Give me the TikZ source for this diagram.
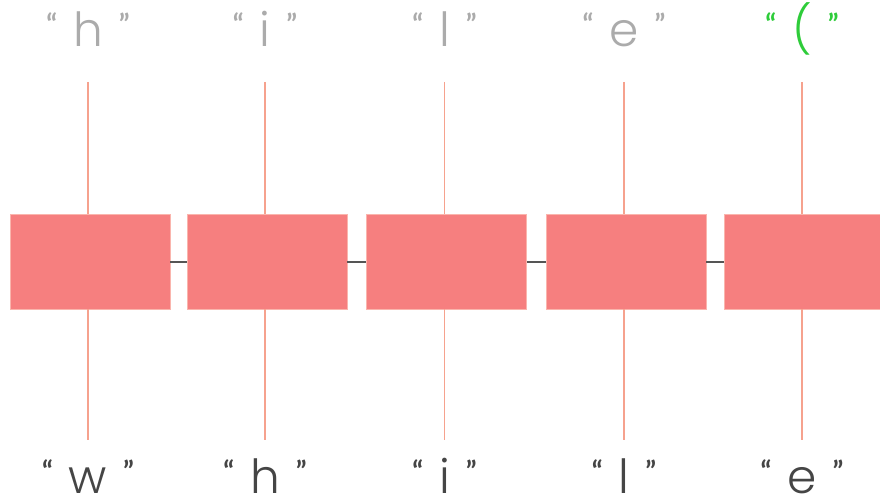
\documentclass[tikz,border=0pt]{standalone}
\usepackage{fontspec}
\setmainfont{Poppins Light}
\newfontfamily\quotefont{Lato}
\definecolor{boxred}{HTML}{F67F7F}
\definecolor{boxedge}{HTML}{FAB5AD}
\definecolor{stem}{HTML}{F6A28E}
\definecolor{toplbl}{HTML}{ABABAB}
\definecolor{greenlbl}{HTML}{2ECC3A}
\definecolor{botlbl}{HTML}{454545}
\definecolor{link}{HTML}{555555}
\newcommand\qmark[1]{\raisebox{12pt}{\quotefont\bfseries\fontsize{28}{28}\selectfont #1}}
\newcommand\lbltext[1]{\qmark{“}\hspace{16pt}#1\hspace{16pt}\qmark{”}}
\begin{document}
\begin{tikzpicture}[x=1pt,y=-1pt,
  cell/.style={draw=boxedge,line width=0.8pt,fill=boxred,minimum width=160pt,minimum height=95pt,inner sep=0pt},
  stemline/.style={draw=stem,line width=1.3pt},
  linkline/.style={draw=link,line width=2pt},
  lbl/.style={anchor=base,inner sep=0pt,font=\fontsize{47}{47}\selectfont}]
\useasboundingbox (0,0) rectangle (880,500);
\clip (0,0) rectangle (880,500);
% boxes
\node[cell] (b1) at (90,261.5) {};
\node[cell] (b2) at (267,261.5) {};
\node[cell] (b3) at (446.5,261.5) {};
\node[cell] (b4) at (626,261.5) {};
\node[cell] (b5) at (804,261.5) {};
% connectors
\draw[linkline] (b1.east) -- (b2.west);
\draw[linkline] (b2.east) -- (b3.west);
\draw[linkline] (b3.east) -- (b4.west);
\draw[linkline] (b4.east) -- (b5.west);
% stems
\foreach \i/\x in {1/88,2/265,3/444.5,4/624,5/802}{
  \coordinate (t\i) at (\x,82);
  \coordinate (u\i) at (\x,440);
  \draw[stemline] (t\i) -- (t\i |- b\i.north);
  \draw[stemline] (b\i.south -| u\i) -- (u\i);
}
% top labels
\node[lbl,text=toplbl] (o1) at (88,46.5) {\lbltext{h}};
\node[lbl,text=toplbl] (o2) at (265,46.5) {\lbltext{i}};
\node[lbl,text=toplbl] (o3) at (444.5,46.5) {\lbltext{l}};
\node[lbl,text=toplbl] (o4) at (624,46.5) {\lbltext{e}};
\node[lbl,text=greenlbl] (o5) at (802,46.5) {\lbltext{(}};
% bottom labels
\node[lbl,text=botlbl] (i1) at (88,493) {\lbltext{w}};
\node[lbl,text=botlbl] (i2) at (265,493) {\lbltext{h}};
\node[lbl,text=botlbl] (i3) at (444.5,493) {\lbltext{i}};
\node[lbl,text=botlbl] (i4) at (624,493) {\lbltext{l}};
\node[lbl,text=botlbl] (i5) at (802,493) {\lbltext{e}};
\end{tikzpicture}
\end{document}
